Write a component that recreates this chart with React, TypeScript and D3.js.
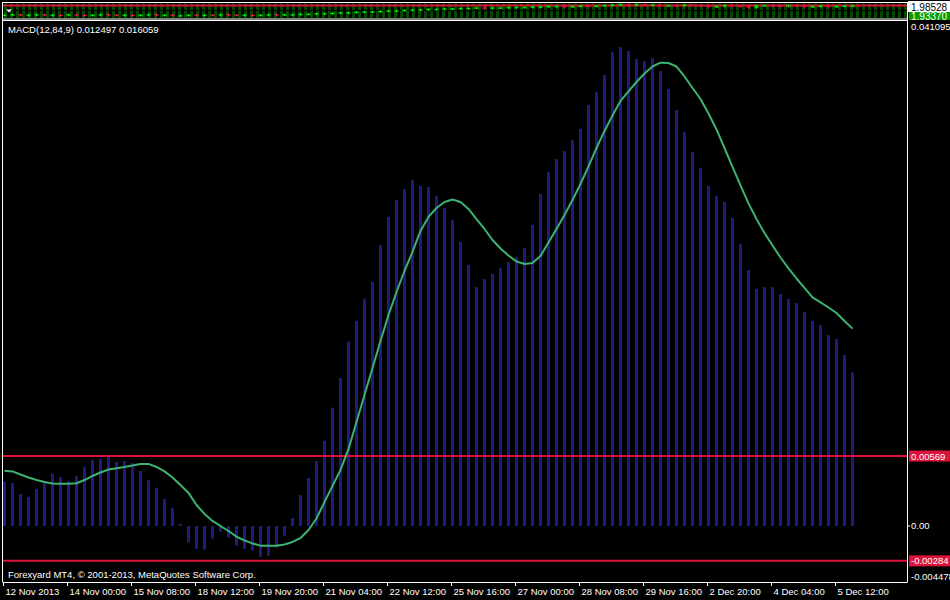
import * as d3 from 'd3';

// MACD(12,84,9) histogram values, one per bar
const macd = [
  0.00361, 0.00352, 0.0026, 0.00236, 0.00301, 0.00358, 0.00426, 0.00399, 0.00366, 0.00407,
  0.00483, 0.00537, 0.00545, 0.00562, 0.00521, 0.00529, 0.00513, 0.00448, 0.00374, 0.00309,
  0.0022, 0.00146, 0.00016, -0.00136, -0.00185, -0.00193, -0.00103, -0.00046, -0.00095, -0.0016,
  -0.00185, -0.00201, -0.0025, -0.00242, -0.00177, -0.00079, 0.00065, 0.00252, 0.00391, 0.00529,
  0.00692, 0.00963, 0.01204, 0.015, 0.01668, 0.0185, 0.01986, 0.02287, 0.02515, 0.02653,
  0.02742, 0.02816, 0.02767, 0.02759, 0.02686, 0.02588, 0.0249, 0.02311, 0.02124, 0.01945,
  0.0201, 0.02051, 0.021, 0.02148, 0.02189, 0.02262, 0.0245, 0.02702, 0.02881, 0.02987,
  0.03052, 0.03141, 0.03231, 0.03426, 0.03532, 0.0367, 0.03857, 0.03898, 0.03866, 0.038,
  0.03784, 0.03809, 0.03703, 0.03556, 0.03385, 0.03206, 0.03044, 0.02913, 0.02767, 0.02686,
  0.02637, 0.02507, 0.02295, 0.02083, 0.01929, 0.01945, 0.01945, 0.01888, 0.01847, 0.01815,
  0.01742, 0.01668, 0.01636, 0.01554, 0.01522, 0.01392, 0.012497,
];

// signal line
const signal = [
  0.0045, 0.00444, 0.00419, 0.00395, 0.00374, 0.00358, 0.00346, 0.00344, 0.00344, 0.00348,
  0.00374, 0.00407, 0.00435, 0.0046, 0.0047, 0.0048, 0.00492, 0.00505, 0.00505, 0.0048,
  0.00444, 0.00395, 0.00334, 0.00269, 0.00171, 0.00098, 0.00041, 0.0, -0.00041, -0.00087,
  -0.00118, -0.00142, -0.0016, -0.0016, -0.0016, -0.00151, -0.0013, -0.00098, -0.00033, 0.00061,
  0.00195, 0.00326, 0.00456, 0.00627, 0.00846, 0.01066, 0.01286, 0.01506, 0.01717, 0.01904,
  0.02075, 0.0223, 0.02401, 0.02515, 0.02588, 0.02637, 0.02657, 0.02637, 0.0258, 0.02498,
  0.02417, 0.02327, 0.02258, 0.02201, 0.02152, 0.02132, 0.0214, 0.02197, 0.02307, 0.02417,
  0.02531, 0.02653, 0.02783, 0.02926, 0.03076, 0.03215, 0.03341, 0.03459, 0.03536, 0.03613,
  0.03682, 0.03739, 0.0377, 0.03768, 0.03739, 0.03658, 0.03564, 0.03475, 0.03357, 0.03227,
  0.03076, 0.02922, 0.02771, 0.02625, 0.02498, 0.02384, 0.02283, 0.02185, 0.02096, 0.02014,
  0.01937, 0.0186, 0.01819, 0.01778, 0.01733, 0.01668, 0.016059,
];

// closes shown in the squeezed price pane at the top
const closes = [
  1.9466, 1.9482, 1.945, 1.9466, 1.9482, 1.945, 1.9466, 1.945, 1.9482, 1.9466,
  1.945, 1.9466, 1.9482, 1.9466, 1.945, 1.9466, 1.945, 1.9466, 1.9482, 1.945,
  1.9466, 1.945, 1.945, 1.9466, 1.945, 1.9466, 1.945, 1.9482, 1.9466, 1.945,
  1.9466, 1.945, 1.9466, 1.9482, 1.9466, 1.9482, 1.9482, 1.9498, 1.9498, 1.9514,
  1.9514, 1.953, 1.9547, 1.9547, 1.9563, 1.9579, 1.9579, 1.9595, 1.9611, 1.9611,
  1.9627, 1.9643, 1.9643, 1.9659, 1.9659, 1.9676, 1.9676, 1.9692, 1.9692, 1.9708,
  1.9692, 1.9708, 1.9708, 1.9724, 1.9724, 1.9724, 1.974, 1.974, 1.9756, 1.9756,
  1.974, 1.9756, 1.9772, 1.9756, 1.9772, 1.9788, 1.9804, 1.9821, 1.9804, 1.9821,
  1.9804, 1.9804, 1.9772, 1.9788, 1.9772, 1.9804, 1.9788, 1.9772, 1.974, 1.9756,
  1.9788, 1.9772, 1.974, 1.9708, 1.9772, 1.9788, 1.9772, 1.9756, 1.9788, 1.9772,
  1.974, 1.9756, 1.9772, 1.974, 1.9756, 1.9772, 1.9772,
];

const timeLabels = [
  '12 Nov 2013', '14 Nov 00:00', '15 Nov 08:00', '18 Nov 12:00', '19 Nov 20:00',
  '21 Nov 04:00', '22 Nov 12:00', '25 Nov 16:00', '27 Nov 00:00', '28 Nov 08:00',
  '29 Nov 16:00', '2 Dec 20:00', '4 Dec 04:00', '5 Dec 12:00',
];

const levels = [0.00569, -0.00284];
const macdMax = 0.041095;
const macdMin = -0.004478;
const priceMax = 1.98528;
const priceMin = 1.9337;
const barsPerLabel = 8;

const W = 950;
const H = 600;
const FONT = '"Liberation Sans", Arial, sans-serif';

export default function App() {
  const left = 3;
  const right = 907;
  const paneTop = 21;
  const paneBottom = 581;

  const x = d3.scaleLinear().domain([0, macd.length - 1]).range([4.5, 4.5 + 8 * (macd.length - 1)]);
  const y = d3.scaleLinear().domain([macdMin, macdMax]).range([paneBottom, paneTop]);
  const py = d3.scaleLinear().domain([priceMin, priceMax]).range([19, 3.5]);

  const line = d3.line<number>()
    .x((_, i) => x(i))
    .y(d => y(d));

  const fmt = (v: number) => v.toFixed(5);

  return (
    <svg width={W} height={H} style={{ position: 'absolute', left: 0, top: 0, background: '#000' }}
      fontFamily={FONT}>
      <defs>
        <clipPath id="macd-clip">
          <rect x={left} y={paneTop} width={right - left} height={paneBottom - paneTop} />
        </clipPath>
        <clipPath id="price-clip">
          <rect x={left} y={3} width={right - left} height={15.5} />
        </clipPath>
        <clipPath id="lbl-clip">
          <rect x={908} y={0} width={42} height={20} />
        </clipPath>
        <pattern id="grid" x={left} y={3} width={6} height={16} patternUnits="userSpaceOnUse">
          <rect x={1} y={0.5} width={3} height={6.5} fill="#004800" />
          <rect x={1} y={8} width={3} height={7} fill="#004800" />
        </pattern>
      </defs>
      <rect x={0} y={0} width={W} height={H} fill="#000" />

      {/* price pane */}
      <rect x={left} y={3} width={right - left} height={15.5} fill="url(#grid)" />
      <g clipPath="url(#price-clip)">
        <line x1={left} x2={right} y1={5.5} y2={5.5} stroke="#dc143c" strokeWidth={2} />
        {closes.map((c, i) => {
          const o = i === 0 ? c : closes[i - 1];
          const y0 = py(Math.max(o, c));
          const y1 = py(Math.min(o, c));
          const up = c >= o;
          return (
            <g key={i}>
              <line x1={x(i)} x2={x(i)} y1={y0 - 1} y2={y1 + 1} stroke={up ? '#00e000' : '#dc143c'} strokeWidth={1} />
              <rect x={x(i) - 2} y={y0 - 0.5} width={4} height={Math.max(1.5, y1 - y0 + 0.5)}
                fill={up ? '#00e000' : '#dc143c'} />
            </g>
          );
        })}
      </g>
      <path d="M6,9.5 L12,9.5 L9,12.5 Z" fill="#fff" />
      <rect x={left - 0.5} y={2.5} width={right - left + 1} height={16.5} fill="none" stroke="#fff" strokeWidth={1} />
      <g clipPath="url(#lbl-clip)">
        <rect x={909} y={12} width={41} height={8} fill="#00a000" />
        <text x={911} y={19.5} fontSize={10} fill="#fff">{priceMin.toFixed(5)}</text>
        <rect x={908} y={1} width={42} height={11} fill="#fff" />
        <text x={911} y={10.5} fontSize={10} fill="#000">{priceMax.toFixed(5)}</text>
      </g>

      {/* MACD pane */}
      <g clipPath="url(#macd-clip)">
        {macd.map((v, i) => (
          <rect key={i} x={x(i) - 1.5} width={3}
            y={Math.min(y(v), y(0))} height={Math.max(1, Math.abs(y(v) - y(0)))}
            fill="#1c1c7a" />
        ))}
        {levels.map(l => (
          <line key={l} x1={left} x2={right} y1={y(l)} y2={y(l)} stroke="#dc143c" strokeWidth={2} />
        ))}
        <path d={line(signal) || ''} fill="none" stroke="#3cb371" strokeWidth={2} strokeLinejoin="round" />
      </g>
      <line x1={left - 0.5} x2={right + 0.5} y1={paneTop - 0.5} y2={paneTop - 0.5} stroke="#fff" />
      <line x1={left - 0.5} x2={left - 0.5} y1={2.5} y2={paneBottom + 1} stroke="#fff" />
      <line x1={right + 0.5} x2={right + 0.5} y1={2.5} y2={paneBottom + 1} stroke="#fff" />
      <line x1={left - 0.5} x2={right + 0.5} y1={paneBottom + 1.5} y2={paneBottom + 1.5} stroke="#fff" />

      <text x={8} y={33} fontSize={9.5} fill="#fff">
        {`MACD(12,84,9) ${macd[macd.length - 1].toFixed(6)} ${signal[signal.length - 1].toFixed(6)}`}
      </text>
      <text x={8} y={578} fontSize={9.5} fill="#fff">Forexyard MT4, © 2001-2013, MetaQuotes Software Corp.</text>

      {/* right axis */}
      <text x={911} y={30} fontSize={9.5} fill="#fff">{macdMax.toFixed(6)}</text>
      {levels.map(l => (
        <g key={l}>
          <rect x={909} y={y(l) - 5.5} width={41} height={11} fill="#dc143c" />
          <text x={911} y={y(l) + 3.5} fontSize={9.5} fill="#fff">{fmt(l)}</text>
        </g>
      ))}
      <line x1={908} x2={910} y1={y(0)} y2={y(0)} stroke="#fff" />
      <text x={911} y={y(0) + 3.5} fontSize={9.5} fill="#fff">{(0).toFixed(2)}</text>
      <text x={911} y={580} fontSize={9.5} fill="#fff">{macdMin.toFixed(6)}</text>

      {/* time axis */}
      {timeLabels.map((t, k) => {
        const tx = Math.round(x(k * barsPerLabel) - 1.5) + 0.5;
        return (
          <g key={t}>
            <line x1={tx} x2={tx} y1={paneBottom + 1} y2={paneBottom + 5} stroke="#fff" />
            <text x={tx + 2} y={595} fontSize={9.5} fill="#fff">{t}</text>
          </g>
        );
      })}
    </svg>
  );
}
